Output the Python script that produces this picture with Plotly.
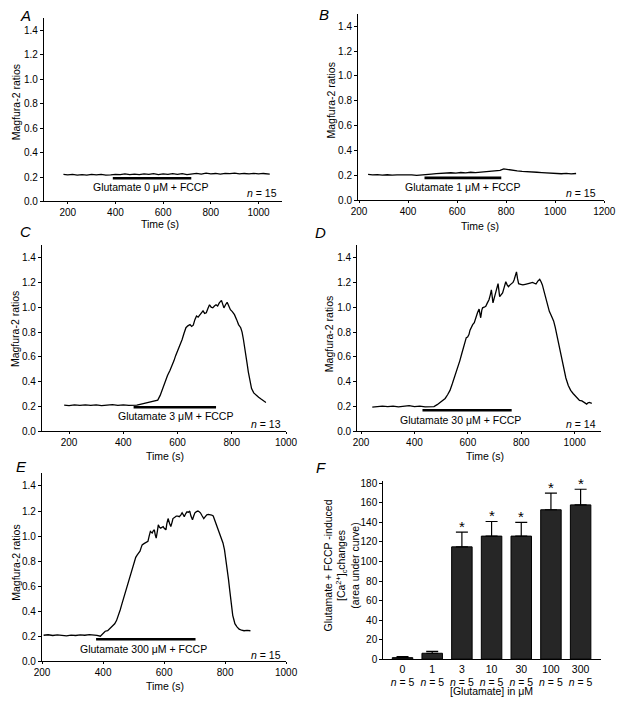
import plotly.graph_objects as go

W, H = 625, 708
FONT = "Liberation Sans, Arial, sans-serif"

# ---------------- data ----------------
A_t = [182, 200, 220, 240, 260, 280, 300, 320, 340, 360, 380, 400, 420, 440, 460, 480, 500, 520, 540, 560, 580, 600,
       620, 640, 660, 680, 700, 720, 740, 760, 780, 800, 820, 840, 860, 880, 900, 920, 940, 960, 980, 1000, 1020, 1047]
A_y = [0.222, 0.218, 0.221, 0.216, 0.220, 0.215, 0.222, 0.217, 0.221, 0.215, 0.218, 0.222, 0.219, 0.226, 0.220, 0.224,
       0.219, 0.225, 0.221, 0.227, 0.220, 0.226, 0.222, 0.228, 0.221, 0.227, 0.219, 0.226, 0.230, 0.224, 0.231, 0.226,
       0.229, 0.224, 0.230, 0.227, 0.231, 0.225, 0.229, 0.226, 0.230, 0.225, 0.229, 0.224]

B_t = [237, 255, 275, 295, 315, 335, 355, 375, 395, 415, 435, 455, 475, 495, 515, 535, 555, 575, 595, 615, 635, 655,
       675, 695, 715, 735, 755, 775, 790, 805, 825, 845, 865, 885, 905, 925, 945, 965, 985, 1005, 1025, 1045, 1065, 1085]
B_y = [0.207, 0.203, 0.206, 0.202, 0.205, 0.201, 0.204, 0.206, 0.202, 0.204, 0.200, 0.203, 0.201, 0.210, 0.214, 0.218,
       0.216, 0.221, 0.218, 0.223, 0.220, 0.225, 0.222, 0.226, 0.228, 0.231, 0.234, 0.240, 0.252, 0.246, 0.240, 0.236,
       0.232, 0.228, 0.230, 0.225, 0.222, 0.219, 0.215, 0.218, 0.213, 0.216, 0.212, 0.215]

C_t = [182, 200, 220, 240, 260, 280, 300, 320, 340, 360, 380, 400, 420, 438, 450, 462, 480, 498, 515, 527, 536, 545,
       554, 563, 572, 581, 587, 593, 599, 605, 611, 617, 624, 631, 638, 646, 652, 658, 664, 670, 676, 682, 688, 694,
       700, 706, 712, 718, 724, 730, 736, 742, 748, 754, 762, 766, 771, 777, 783, 789, 795, 802, 810, 818, 825, 833,
       838, 843, 848, 852, 857, 861, 867, 873, 881, 890, 899, 908, 917, 926]
C_y = [0.212, 0.208, 0.213, 0.209, 0.214, 0.210, 0.213, 0.208, 0.212, 0.215, 0.210, 0.213, 0.209, 0.207, 0.211, 0.217,
       0.228, 0.240, 0.246, 0.252, 0.29, 0.345, 0.40, 0.45, 0.49, 0.53, 0.57, 0.61, 0.64, 0.67, 0.71, 0.74, 0.79,
       0.835, 0.85, 0.86, 0.845, 0.855, 0.90, 0.93, 0.92, 0.94, 0.96, 0.97, 0.95, 0.955, 0.99, 1.02, 1.00, 0.995,
       1.01, 1.02, 1.01, 1.035, 1.055, 1.03, 0.995, 1.02, 1.04, 1.01, 0.98, 0.965, 0.94, 0.90, 0.86, 0.835, 0.80,
       0.74, 0.68, 0.61, 0.54, 0.48, 0.41, 0.345, 0.31, 0.29, 0.275, 0.26, 0.245, 0.233]

D_t = [242, 260, 280, 300, 320, 340, 360, 380, 400, 420, 440, 461, 473, 485, 497, 506, 515, 524, 533, 542, 551, 560,
       570, 577, 584, 589, 594, 599, 604, 608, 612, 618, 624, 630, 636, 642, 648, 652, 655, 661, 667, 673, 679, 684,
       688, 694, 699, 703, 708, 713, 719, 725, 730, 736, 742, 747, 752, 758, 764, 769, 773, 778, 782, 786, 790, 798,
       806, 815, 824, 833, 842, 849, 855, 862, 869, 874, 879, 885, 891, 898, 905, 913, 921, 927, 933, 939, 945, 951,
       958, 967, 976, 985, 994, 1006, 1018, 1027, 1036, 1041, 1045, 1050, 1055, 1064]
D_y = [0.195, 0.199, 0.203, 0.200, 0.204, 0.197, 0.202, 0.208, 0.200, 0.203, 0.197, 0.199, 0.20, 0.215, 0.235, 0.248,
       0.265, 0.295, 0.33, 0.385, 0.44, 0.50, 0.57, 0.625, 0.675, 0.72, 0.755, 0.76, 0.78, 0.815, 0.84, 0.86, 0.875,
       0.92, 0.955, 0.985, 0.915, 0.975, 0.995, 1.00, 1.007, 1.035, 1.06, 1.10, 1.14, 1.035, 1.08, 1.115, 1.15, 1.19,
       1.085, 1.10, 1.115, 1.16, 1.205, 1.18, 1.165, 1.18, 1.19, 1.20, 1.22, 1.25, 1.285, 1.23, 1.19, 1.185, 1.18,
       1.185, 1.187, 1.195, 1.20, 1.195, 1.187, 1.21, 1.225, 1.205, 1.18, 1.13, 1.085, 1.03, 0.967, 0.93, 0.89, 0.84,
       0.78, 0.72, 0.65, 0.58, 0.505, 0.43, 0.37, 0.33, 0.305, 0.275, 0.25, 0.245, 0.233, 0.228, 0.22, 0.23, 0.233,
       0.226]

E_t = [205, 220, 235, 250, 265, 280, 295, 310, 325, 340, 355, 370, 380, 391, 400, 407, 415, 422, 430, 438, 444, 449,
       456, 462, 468, 475, 483, 491, 497, 502, 507, 512, 517, 521, 525, 528, 534, 539, 543, 547, 551, 555, 558, 561,
       564, 568, 571, 574, 578, 581, 585, 589, 593, 597, 601, 606, 609, 613, 618, 622, 626, 629, 635, 640, 645, 650,
       655, 659, 663, 666, 671, 675, 680, 684, 688, 693, 697, 701, 706, 711, 715, 719, 725, 730, 735, 740, 745, 751,
       756, 761, 767, 772, 778, 783, 788, 793, 798, 802, 807, 811, 815, 818, 822, 825, 829, 832, 839, 846, 854, 862,
       872, 883]
E_y = [0.208, 0.212, 0.206, 0.211, 0.207, 0.203, 0.209, 0.206, 0.211, 0.208, 0.213, 0.211, 0.207, 0.200, 0.22, 0.24,
       0.245, 0.26, 0.275, 0.30, 0.325, 0.355, 0.41, 0.46, 0.51, 0.565, 0.64, 0.71, 0.76, 0.80, 0.83, 0.85, 0.865,
       0.88, 0.91, 0.93, 0.94, 0.945, 0.95, 0.958, 1.00, 1.037, 1.03, 1.024, 1.04, 1.05, 1.01, 0.984, 1.04, 1.09,
       1.07, 1.063, 1.07, 1.076, 1.06, 1.05, 1.10, 1.14, 1.10, 1.076, 1.11, 1.14, 1.15, 1.16, 1.16, 1.155, 1.17,
       1.186, 1.17, 1.155, 1.18, 1.194, 1.19, 1.20, 1.16, 1.13, 1.16, 1.186, 1.195, 1.20, 1.195, 1.186, 1.16, 1.14,
       1.155, 1.17, 1.173, 1.173, 1.168, 1.16, 1.12, 1.076, 1.04, 1.01, 0.98, 0.945, 0.89, 0.827, 0.74, 0.656, 0.57,
       0.50, 0.43, 0.367, 0.33, 0.30, 0.275, 0.257, 0.248, 0.244, 0.247, 0.244]

# application bars (start time, end time, level) per trace panel
bar_start = [389, 467, 438, 430, 377]
bar_end = [718, 780, 742, 764, 703]
bar_level = [0.19, 0.18, 0.194, 0.17, 0.176]
glu_conc = ["0", "1", "3", "30", "300"]
n_cells = [15, 15, 13, 14, 15]

# panel F
F_cats = ["0", "1", "3", "10", "30", "100", "300"]
F_mean = [1.5, 6, 115, 126, 126, 153, 158]
F_err = [1.0, 2.0, 15, 15, 14, 17, 16]
F_n = [5, 5, 5, 5, 5, 5, 5]
F_sig = [False, False, True, True, True, True, True]

# ---------------- layout helpers ----------------
def px(x):
    return x / W

def py(y):
    return 1 - y / H

TXT = 10.5   # annotation text size
TICK = 10    # tick label size

# (left, right, top, bottom) in px, x-range
panels = [
    dict(dom=(37, 283, 14.3, 200.3), xr=[100, 1100]),
    dict(dom=(361, 615, 10, 199), xr=[196, 1200]),
    dict(dom=(35, 287, 244.6, 433.5), xr=[100, 1001]),
    dict(dom=(360, 612, 244.6, 433.5), xr=[185, 1100]),
    dict(dom=(35, 287, 476.2, 666.7), xr=[199.5, 1000.5]),
]
series = [(A_t, A_y), (B_t, B_y), (C_t, C_y), (D_t, D_y), (E_t, E_y)]

glu_pos = [(146.7, 185.7), (468.3, 185.7), (172.5, 418.3), (466.7, 421.7), (140, 654)]
n_pos = [(280, 192), (609, 192), (284, 425.7), (609, 425.7), (284, 660)]
ytitle_pos = [(8, 100), (333, 98), (8, 330), (331, 335), (8, 567)]
xtitle_pos = [(156.7, 223), (486.7, 225), (161.7, 458), (491.7, 458.5), (161.7, 692)]
letters = [("A", 18, 12), ("B", 326, 11), ("C", 18, 231), ("D", 322, 232), ("E", 14, 469), ("F", 323, 470)]

fig = go.Figure()
layout = dict(width=W, height=H, margin=dict(l=0, r=0, t=0, b=0), showlegend=False,
              paper_bgcolor="white", plot_bgcolor="white",
              font=dict(family=FONT, size=TXT, color="black"))
annotations = []

axis_common = dict(showline=True, linecolor="black", linewidth=1, showgrid=False, zeroline=False,
                   ticks="outside", ticklen=3, tickwidth=1, tickcolor="black",
                   tickfont=dict(family=FONT, size=TICK, color="black"))

for i, p in enumerate(panels):
    k = i + 1
    xa = "x" if k == 1 else f"x{k}"
    ya = "y" if k == 1 else f"y{k}"
    xkey = "xaxis" if k == 1 else f"xaxis{k}"
    ykey = "yaxis" if k == 1 else f"yaxis{k}"
    l, r, t, b = p["dom"]
    layout[xkey] = dict(axis_common, domain=[px(l), px(r)], range=p["xr"], dtick=200, tick0=0, anchor=ya,
                        ticklen=2)
    layout[ykey] = dict(axis_common, domain=[py(b), py(t)], range=[0, 1.5], dtick=0.2, tick0=0,
                        tickformat=".1f", anchor=xa)
    tt, yy = series[i]
    fig.add_trace(go.Scatter(x=tt, y=yy, mode="lines", line=dict(color="black", width=1.3),
                             xaxis=xa, yaxis=ya, hoverinfo="skip"))
    fig.add_trace(go.Scatter(x=[bar_start[i], bar_end[i]], y=[bar_level[i], bar_level[i]], mode="lines",
                             line=dict(color="black", width=2.6), xaxis=xa, yaxis=ya, hoverinfo="skip"))
    gx, gy = glu_pos[i]
    annotations.append(dict(xref="paper", yref="paper", x=px(gx), y=py(gy), showarrow=False,
                            text=f"Glutamate {glu_conc[i]} μM + FCCP", font=dict(size=TXT),
                            xanchor="center", yanchor="middle"))
    nx, ny = n_pos[i]
    annotations.append(dict(xref="paper", yref="paper", x=px(nx), y=py(ny), showarrow=False,
                            text=f"<i>n</i> = {n_cells[i]}", font=dict(size=TXT),
                            xanchor="right", yanchor="middle"))
    yx, yy_ = ytitle_pos[i]
    annotations.append(dict(xref="paper", yref="paper", x=px(yx), y=py(yy_), showarrow=False,
                            text="Magfura-2 ratios", textangle=-90, font=dict(size=TXT),
                            xanchor="center", yanchor="middle"))
    xx, xy = xtitle_pos[i]
    annotations.append(dict(xref="paper", yref="paper", x=px(xx), y=py(xy), showarrow=False,
                            text="Time (s)", font=dict(size=TXT), xanchor="center", yanchor="middle"))

# panel F
F_x = list(range(len(F_cats)))
F_ticktext = [f"{c}<br><i>n</i> = {n}" for c, n in zip(F_cats, F_n)]
layout["xaxis6"] = dict(axis_common, domain=[px(387), px(612)], range=[-0.65, 6.7], anchor="y6",
                        tickvals=F_x, ticktext=F_ticktext, ticks="",
                        tickfont=dict(family=FONT, size=10.5, color="black"))
layout["yaxis6"] = dict(axis_common, domain=[py(664.5), py(484.3)], range=[0, 182], dtick=20, tick0=0,
                        anchor="x6")
fig.add_trace(go.Bar(x=F_x, y=F_mean, width=0.69, marker=dict(color="#262626", line=dict(color="black", width=1)),
                     error_y=dict(type="data", symmetric=False, array=F_err, arrayminus=[0] * len(F_err),
                                  color="black", thickness=1.2, width=6),
                     xaxis="x6", yaxis="y6", hoverinfo="skip"))
for xi, m, e, s in zip(F_x, F_mean, F_err, F_sig):
    if s:
        annotations.append(dict(xref="x6", yref="y6", x=xi, y=m + e, showarrow=False, text="*",
                                font=dict(size=15), xanchor="center", yanchor="bottom", yshift=-5))
annotations.append(dict(xref="paper", yref="paper", x=px(498.3), y=py(697), showarrow=False,
                        text="[Glutamate] in μM", font=dict(size=10.5), xanchor="center", yanchor="middle"))
annotations.append(dict(xref="paper", yref="paper", x=px(344), y=py(570), showarrow=False,
                        text="Glutamate + FCCP -induced<br>[Ca<sup>2+</sup>]<sub>c</sub>changes<br>(area under curve)",
                        textangle=-90, font=dict(size=TXT), xanchor="center", yanchor="middle"))

for L, lx, ly in letters:
    annotations.append(dict(xref="paper", yref="paper", x=px(lx), y=py(ly), showarrow=False,
                            text=f"<i>{L}</i>", font=dict(size=15), xanchor="center", yanchor="middle"))

layout["annotations"] = annotations
fig.update_layout(**layout)
fig.write_html("out.html", config={"displayModeBar": False},
               post_script="document.body.style.margin='0';document.body.style.padding='0';")
